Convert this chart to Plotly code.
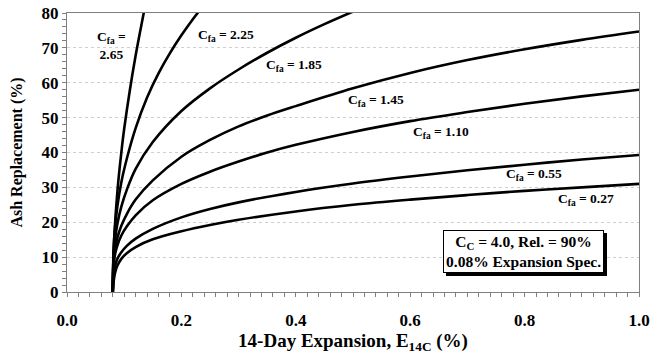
import plotly.graph_objects as go

# ---- data ----
exp_027 = [0.08, 0.0815, 0.084, 0.088, 0.095, 0.105, 0.12, 0.15, 0.2, 0.25, 0.3, 0.4, 0.5, 0.6, 0.7, 0.8, 0.9, 1.0]
rep_027 = [0, 3.0, 5.5, 7.5, 9.5, 11.2, 12.9, 15.1, 17.4, 19.2, 20.7, 23.1, 25.0, 26.5, 27.8, 29.0, 30.0, 31.0]

exp_055 = [0.08, 0.0815, 0.084, 0.088, 0.095, 0.105, 0.12, 0.15, 0.2, 0.25, 0.3, 0.4, 0.5, 0.6, 0.7, 0.8, 0.9, 1.0]
rep_055 = [0, 5.0, 7.5, 9.5, 11.4, 13.3, 15.3, 18.1, 21.4, 23.8, 25.7, 28.7, 31.1, 33.1, 34.9, 36.5, 38.0, 39.3]

exp_110 = [0.08, 0.0815, 0.084, 0.088, 0.095, 0.105, 0.12, 0.15, 0.2, 0.25, 0.3, 0.35, 0.4, 0.5, 0.6, 0.7, 0.8, 0.9, 1.0]
rep_110 = [0, 7.5, 10.8, 13.3, 16.2, 18.9, 22.0, 26.3, 31.0, 34.5, 37.4, 40.0, 42.2, 45.9, 49.0, 51.6, 54.0, 56.1, 58.0]

exp_145 = [0.08, 0.0815, 0.084, 0.088, 0.095, 0.105, 0.12, 0.15, 0.2, 0.25, 0.3, 0.35, 0.4, 0.5, 0.6, 0.7, 0.8, 0.9, 1.0]
rep_145 = [0, 9.0, 12.5, 15.5, 19.0, 22.5, 26.5, 32.0, 38.8, 43.6, 47.5, 50.6, 53.3, 58.4, 62.8, 66.5, 69.6, 72.3, 74.7]

exp_185 = [0.08, 0.0815, 0.084, 0.088, 0.095, 0.105, 0.12, 0.15, 0.2, 0.25, 0.3, 0.35, 0.4, 0.45, 0.5]
rep_185 = [0, 10.5, 15.0, 19.5, 24.5, 29.5, 35.3, 43.0, 51.9, 58.4, 63.8, 68.6, 72.9, 76.8, 80.4]

exp_225 = [0.08, 0.0815, 0.084, 0.088, 0.095, 0.105, 0.12, 0.14, 0.16, 0.18, 0.2, 0.22, 0.235]
rep_225 = [0, 12.5, 18.5, 24.5, 31.5, 38.5, 47.0, 55.8, 62.7, 68.5, 73.6, 78.2, 81.4]

exp_265 = [0.08, 0.0815, 0.083, 0.085, 0.088, 0.092, 0.096, 0.10, 0.11, 0.12, 0.13, 0.136]
rep_265 = [0, 11.6, 16.8, 22.1, 28.6, 35.5, 41.5, 46.8, 58.0, 67.8, 76.5, 81.6]

label_text = ["C<sub>fa</sub> =<br>2.65", "C<sub>fa</sub> = 2.25", "C<sub>fa</sub> = 1.85",
              "C<sub>fa</sub> = 1.45", "C<sub>fa</sub> = 1.10", "C<sub>fa</sub> = 0.55",
              "C<sub>fa</sub> = 0.27"]
label_x = [0.078, 0.278, 0.397, 0.541, 0.654, 0.817, 0.908]
label_y = [70.6, 73.5, 64.9, 54.9, 45.8, 33.6, 26.4]

x_ticks = [0.0, 0.2, 0.4, 0.6, 0.8, 1.0]
x_tick_text = ["0.0", "0.2", "0.4", "0.6", "0.8", "1.0"]
y_ticks = [0, 10, 20, 30, 40, 50, 60, 70, 80]

FONT = "Liberation Serif"

fig = go.Figure()
for xs, ys in [(exp_027, rep_027), (exp_055, rep_055), (exp_110, rep_110), (exp_145, rep_145),
               (exp_185, rep_185), (exp_225, rep_225), (exp_265, rep_265)]:
    fig.add_trace(go.Scatter(x=xs, y=ys, mode="lines",
                             line=dict(color="black", width=2.6, shape="spline", smoothing=1.0),
                             showlegend=False, hoverinfo="skip"))

for t, lx, ly in zip(label_text, label_x, label_y):
    fig.add_annotation(x=lx, y=ly, text="<b>" + t + "</b>", showarrow=False,
                       font=dict(family=FONT, size=13.5, color="black"), align="center")

box_text = "<b>C<sub>C</sub> = 4.0, Rel. = 90%<br>0.08% Expansion Spec.</b>"
# drop shadow behind the box
fig.add_annotation(x=0.798, y=11.5, text=box_text, showarrow=False, xshift=3, yshift=-3,
                   font=dict(family=FONT, size=15.5, color="black"), bgcolor="black",
                   bordercolor="black", borderwidth=1, borderpad=2)
fig.add_annotation(x=0.798, y=11.5, text=box_text, showarrow=False,
                   font=dict(family=FONT, size=15.5, color="black"), bgcolor="white",
                   bordercolor="black", borderwidth=1, borderpad=2, align="center")

fig.update_xaxes(range=[0, 1.0], tickvals=x_ticks, ticktext=x_tick_text,
                 ticks="outside", ticklen=4, tickcolor="#808080",
                 minor=dict(ticks="outside", dtick=0.02, ticklen=4, tickcolor="#808080"),
                 showline=True, linecolor="#808080", linewidth=1, mirror=True,
                 showgrid=False, zeroline=False, ticklabelstandoff=9, automargin=False,
                 tickfont=dict(family=FONT, size=17, color="black", weight="bold"),
                 title=dict(text="<b>14-Day Expansion, E<sub>14C</sub> (%)</b>",
                            font=dict(family=FONT, size=19, color="black"), standoff=0))
fig.update_yaxes(range=[0, 80], tickvals=y_ticks,
                 ticks="outside", ticklen=4, tickcolor="#808080",
                 minor=dict(ticks="outside", dtick=2, ticklen=4, tickcolor="#808080", showgrid=False),
                 showline=True, linecolor="#808080", linewidth=1, mirror=True,
                 showgrid=True, gridcolor="#cfcfcf", griddash="dot", gridwidth=1,
                 zeroline=False, ticklabelstandoff=0, automargin=False,
                 tickfont=dict(family=FONT, size=17, color="black", weight="bold"),
                 title=dict(text="<b>Ash Replacement (%)</b>",
                            font=dict(family=FONT, size=16, color="black"), standoff=14))

fig.update_layout(width=652, height=356, margin=dict(l=67, r=13, t=13, b=64),
                  plot_bgcolor="white", paper_bgcolor="white")
fig.write_html("out.html", config={"displayModeBar": False},
               post_script="document.body.style.margin='0';document.body.style.overflow='hidden';")
